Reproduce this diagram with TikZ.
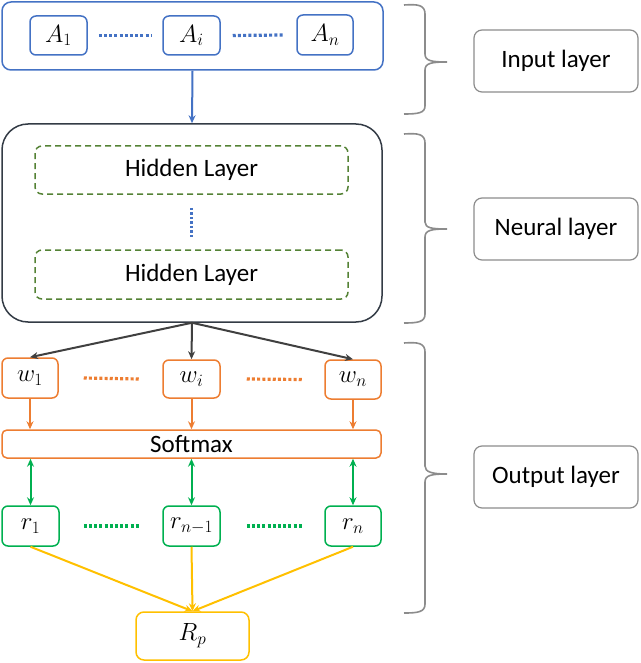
\documentclass[tikz,border=0pt]{standalone}
\usepackage{fontspec}
\setmainfont{Carlito}
\usetikzlibrary{arrows.meta,calc}
\definecolor{cblue}{HTML}{4472C4}
\definecolor{cdark}{HTML}{333B45}
\definecolor{carr}{HTML}{404040}
\definecolor{chid}{HTML}{548235}
\definecolor{corg}{HTML}{ED7D31}
\definecolor{cgrn}{HTML}{00B050}
\definecolor{cyel}{HTML}{FFC000}
\definecolor{cgray}{HTML}{8C8C8C}
\tikzset{
  every node/.style={font=\fontsize{25}{30}\selectfont, inner sep=0pt},
  box/.style={draw, rounded corners=6pt, line width=1.5pt},
  dotl/.style={line width=3.2pt, dash pattern=on 3pt off 2.2pt},
  arr/.style={line width=2pt, -{Stealth[length=8pt,width=7pt]}},
  darr/.style={line width=2pt, {Stealth[length=8pt,width=7pt]}-{Stealth[length=8pt,width=7pt]}},
  brc/.style={draw=cgray, line width=1.6pt},
  lab/.style={draw=cgray, rounded corners=8pt, line width=1.2pt, minimum width=164pt, minimum height=62pt},
}
\begin{document}
\begin{tikzpicture}[x=1pt,y=-1pt]
\useasboundingbox (0,0) rectangle (640,663);
% input layer
\node[box, draw=cblue, minimum width=381pt, minimum height=68pt, rounded corners=9pt] (inp) at (192.5,36) {};
\node[box, draw=cblue, minimum width=57pt, minimum height=39pt] (a1) at (58.5,35.5) {$A_1$};
\node[box, draw=cblue, minimum width=57pt, minimum height=39pt] (ai) at (191.5,35.5) {$A_i$};
\node[box, draw=cblue, minimum width=56pt, minimum height=40pt] (an) at (325,35) {$A_n$};
\draw[dotl, cblue] ($(a1.east)+(11,0)$) -- ($(ai.west)+(-11,0)$);
\draw[dotl, cblue] ($(ai.east)+(12,0)$) -- ($(an.west)+(-12,0)$);
% neural layer
\node[box, draw=cdark, minimum width=380pt, minimum height=198pt, rounded corners=26pt] (neu) at (192,223) {};
\node[box, draw=chid, dash pattern=on 6pt off 4pt, minimum width=313pt, minimum height=48pt, rounded corners=7pt] (h1) at (191.5,170) {Hidden Layer};
\node[box, draw=chid, dash pattern=on 6pt off 4pt, minimum width=313pt, minimum height=49pt, rounded corners=7pt] (h2) at (191.5,274.5) {Hidden Layer};
\draw[line width=3pt, dash pattern=on 2.5pt off 2pt, cblue] ($(h1.south)+(0,13)$) -- ($(h2.north)+(0,-11)$);
\draw[arr, cblue] (inp.south) -- (neu.north);
% output layer
\node[box, draw=corg, minimum width=56pt, minimum height=40pt] (w1) at (30,378) {$w_1$};
\node[box, draw=corg, minimum width=57pt, minimum height=38pt] (wi) at (191.5,379) {$w_i$};
\node[box, draw=corg, minimum width=56pt, minimum height=39pt] (wn) at (353,379.5) {$w_n$};
\draw[dotl, corg] ($(w1.east)+(25,0)$) -- ($(wi.west)+(-23,0)$);
\draw[dotl, corg] ($(wi.east)+(26,0)$) -- ($(wn.west)+(-22,0)$);
\draw[arr, carr] (neu.south) -- (w1.north);
\draw[arr, carr] (neu.south) -- (wi.north);
\draw[arr, carr] (neu.south) -- (wn.north);
\node[box, draw=corg, minimum width=379pt, minimum height=28pt, rounded corners=5pt] (sm) at (191.5,444) {Softmax};
\draw[arr, corg] (w1.south) -- (w1.south |- sm.north);
\draw[arr, corg] (wi.south) -- (wi.south |- sm.north);
\draw[arr, corg] (wn.south) -- (wn.south |- sm.north);
\node[box, draw=cgrn, minimum width=57pt, minimum height=40pt] (r1) at (30.5,526) {$r_1$};
\node[box, draw=cgrn, minimum width=57pt, minimum height=40pt] (rm) at (191.5,526) {$r_{n-1}$};
\node[box, draw=cgrn, minimum width=56pt, minimum height=40pt] (rn) at (353,526) {$r_n$};
\draw[dotl, cgrn] ($(r1.east)+(24,0)$) -- ($(rm.west)+(-23,0)$);
\draw[dotl, cgrn] ($(rm.east)+(26,0)$) -- ($(rn.west)+(-22,0)$);
\draw[darr, cgrn] (r1.north |- sm.south) -- (r1.north);
\draw[darr, cgrn] (rm.north |- sm.south) -- (rm.north);
\draw[darr, cgrn] (rn.north |- sm.south) -- (rn.north);
\node[box, draw=cyel, minimum width=113pt, minimum height=48pt, rounded corners=8pt] (rp) at (192.5,636) {$R_p$};
\draw[arr, cyel] (r1.south) -- (rp.north);
\draw[arr, cyel] (rm.south) -- (rp.north);
\draw[arr, cyel] (rn.south) -- (rp.north);
% braces
\draw[brc] (404,5) .. controls (418,4) and (425,5) .. (425,14) -- (425,54) .. controls (425,61) and (432,62) .. (447,62)
  .. controls (432,62) and (425,63) .. (425,70) -- (425,106) .. controls (425,113) and (418,114) .. (404,114);
\draw[brc] (404,134) .. controls (418,133) and (425,134) .. (425,143) -- (425,222) .. controls (425,228) and (432,229) .. (447,229)
  .. controls (432,229) and (425,230) .. (425,237) -- (425,314) .. controls (425,322) and (418,323) .. (404,323);
\draw[brc] (404,343) .. controls (418,342) and (425,343) .. (425,352) -- (425,466) .. controls (425,472) and (432,474) .. (447,474)
  .. controls (432,474) and (425,475) .. (425,482) -- (425,604) .. controls (425,612) and (418,613) .. (404,613);
\node[lab] (li) at (556,61) {Input layer};
\node[lab] (ln) at (556,229) {Neural layer};
\node[lab] (lo) at (556,477) {Output layer};
\end{tikzpicture}
\end{document}
